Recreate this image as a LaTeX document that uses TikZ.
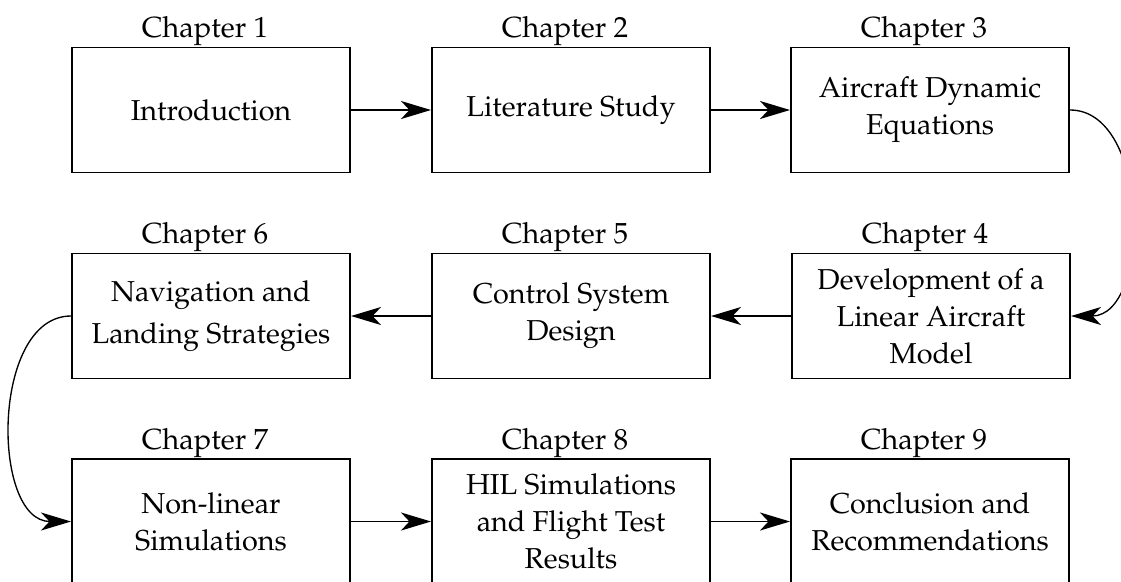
\documentclass[tikz,border=0pt]{standalone}
\usepackage[T1]{fontenc}
\usepackage{mathpazo}
\usetikzlibrary{arrows.meta}
\tikzset{
  chapbox/.style={draw, line width=0.65pt, minimum width=92.67pt, minimum height=41.67pt,
    align=center, inner sep=0pt, font=\fontsize{9.6}{12.3}\selectfont},
  chaplabel/.style={above, inner sep=0pt, font=\fontsize{9.7}{12}\selectfont},
  flow/.style={line width=0.65pt, -{Stealth[length=10pt,width=6pt,inset=2.8pt]}},
  loopflow/.style={line width=0.45pt, -{Stealth[length=10pt,width=6pt,inset=2.8pt]}}
}
\begin{document}
\begin{tikzpicture}[x=0.33333pt,y=-0.33333pt]
\useasboundingbox (0,0) rectangle (1121,581);
\node[chapbox] (c1) at (211,110) {Introduction};
\node[chapbox] (c2) at (571,110) {Literature Study};
\node[chapbox] (c3) at (930,110) {Aircraft Dynamic\\Equations};
\node[chapbox] (c4) at (931,316) {Development of a\\Linear Aircraft\\Model};
\node[chapbox] (c5) at (571,316) {Control System\\Design};
\node[chapbox] (c6) at (211,316) {Navigation and\\[1.8pt]Landing Strategies};
\node[chapbox] (c7) at (211,521.5) {Non-linear\\Simulations};
\node[chapbox] (c8) at (571,521.5) {HIL Simulations\\and Flight Test\\Results};
\node[chapbox] (c9) at (930,521.5) {Conclusion and\\Recommendations};
\foreach \n in {1,...,9} {
  \node[chaplabel] (l\n) at ([xshift=-2pt]c\n.north) {Chapter \n};
}
\draw[flow] (c1) -- (c2);
\draw[flow] (c2) -- (c3);
\draw[loopflow] (c3.east) to[out=0,in=0] (c4.east);
\draw[flow] (c4) -- (c5);
\draw[flow] (c5) -- (c6);
\draw[loopflow] (c6.west) to[out=180,in=180] (c7.west);
\draw[flow] (c7) -- (c8);
\draw[flow] (c8) -- (c9);
\end{tikzpicture}
\end{document}
